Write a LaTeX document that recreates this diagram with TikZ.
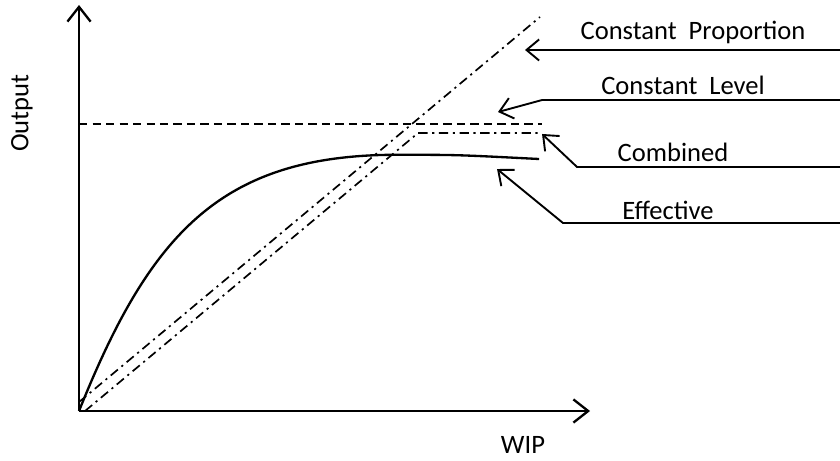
\documentclass[tikz,border=0pt]{standalone}
\usepackage{fontspec}
\setmainfont{Carlito}
\usetikzlibrary{arrows.meta}

\tikzset{
    axis/.style={line width=1.1pt, -{Straight Barb[length=7pt,width=11pt,line width=1.1pt]}},
    leader/.style={line width=0.9pt, -{Straight Barb[length=6pt,width=10pt,line width=0.9pt]}},
    dashdot/.style={line width=0.8pt, dash pattern=on 4.4pt off 2.2pt on 1pt off 2.2pt},
    label/.style={font=\fontsize{12.6}{15}\selectfont}
}

\begin{document}
\begin{tikzpicture}
    
    \useasboundingbox (-1.317,-0.833) rectangle (12.683,6.85);
    
    % axes
    \coordinate (O) at (0,0);
    \coordinate (ytop) at (0,6.767);
    \coordinate (xend) at (8.517,0);
    \draw [axis] (O) -- (ytop);
    \draw [axis] (O) -- (xend);
    
    % axis labels
    \node (output) at (-0.95,4.967) [label, rotate=90] {Output};
    \node (wip) at (7.4,-0.567) [label] {WIP};
    
    % models
    \coordinate (cpstart) at (0,0.15);
    \coordinate (cpend) at (7.683,6.567);
    \draw [dashdot] (cpstart) -- (cpend);
    
    \coordinate (clstart) at (0,4.783);
    \coordinate (clend) at (7.717,4.783);
    \draw [line width=0.8pt, dash pattern=on 4pt off 2.4pt] (clstart) -- (clend);
    
    \coordinate (cbstart) at (0.1,0);
    \coordinate (cbknee) at (5.65,4.633);
    \coordinate (cbend) at (7.717,4.633);
    \draw [dashdot] (cbstart) -- (cbknee) -- (cbend);
    
    \coordinate (efpeak) at (5.4,4.27);
    \coordinate (efend) at (7.667,4.2);
    \draw [line width=1.1pt] (O) .. controls (1.2,3.0) and (2.4,4.3) .. (efpeak)
        .. controls (6.3,4.27) .. (efend);
    
    % model labels
    \node (cptext) at (10.233,6.317) [label] {Constant~~Proportion};
    \node (cltext) at (10.067,5.433) [label] {Constant~~Level};
    \node (cbtext) at (9.9,4.317) [label] {Combined};
    \node (eftext) at (9.817,3.35) [label] {Effective};
    
    % leader arrows
    \coordinate (cpright) at (12.683,6.017);
    \coordinate (cptip) at (7.433,6.017);
    \draw [leader] (cpright) -- (cptip);
    
    \coordinate (clright) at (12.683,5.183);
    \coordinate (clbend) at (7.717,5.183);
    \coordinate (cltip) at (6.983,4.983);
    \draw [leader] (clright) -- (clbend) -- (cltip);
    
    \coordinate (cbright) at (12.683,4.067);
    \coordinate (cbbend) at (8.3,4.067);
    \coordinate (cbtip) at (7.717,4.617);
    \draw [leader] (cbright) -- (cbbend) -- (cbtip);
    
    \coordinate (efright) at (12.683,3.133);
    \coordinate (efbend) at (8.067,3.133);
    \coordinate (eftip) at (6.967,4.033);
    \draw [leader] (efright) -- (efbend) -- (eftip);
    
\end{tikzpicture}
\end{document}
